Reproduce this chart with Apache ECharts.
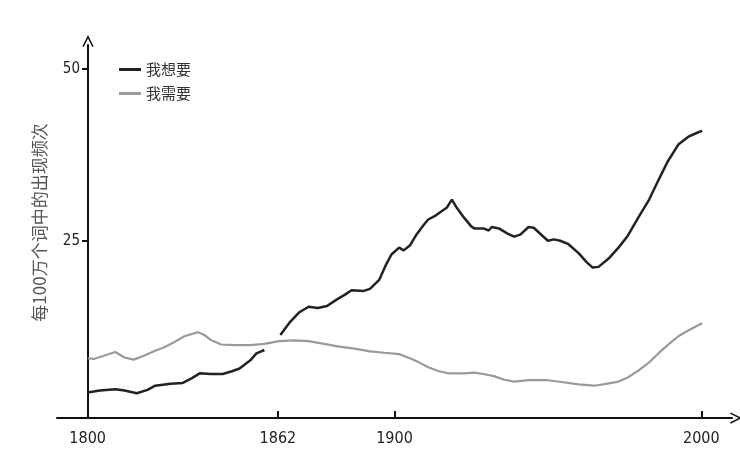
<!DOCTYPE html>
<html>
<head>
<meta charset="utf-8">
<script src="https://cdn.jsdelivr.net/npm/echarts@6/dist/echarts.min.js"></script>
<style>html,body{margin:0;padding:0;background:#fff}#c{width:740px;height:463px}</style>
</head>
<body>
<div id="c"></div>
<script>
var wantYears = [1800,1804,1809,1812,1816,1819.5,1822,1827,1831,1834,1836.5,1840,1844,1847,1849.5,1853,1855,1857.6,1860,1862.8,1866,1869,1872,1875,1878,1881,1884,1886,1890,1892,1895,1897,1899,1901.5,1903,1905,1907,1909.5,1911,1913.5,1915,1917,1918.7,1920.3,1922.6,1925,1926,1929,1930.7,1931.7,1934,1937,1939,1941,1943.7,1945.4,1948,1950,1952,1954,1956.7,1960,1962.6,1964.6,1966.5,1970,1973,1976,1979.5,1983,1986,1989,1992.5,1996,1999,2000.3];
var wantVals  = [2.9,3.2,3.4,3.2,2.8,3.3,3.9,4.2,4.3,5.0,5.7,5.6,5.6,6.0,6.4,7.6,8.6,9.1,null,11.3,13.2,14.6,15.4,15.2,15.5,16.4,17.2,17.8,17.7,18.0,19.3,21.3,23.0,24.0,23.6,24.3,25.8,27.3,28.1,28.7,29.2,29.8,31.0,29.8,28.4,27.1,26.8,26.8,26.5,27.0,26.8,26.0,25.6,25.9,27.0,26.9,25.8,25.0,25.2,25.0,24.5,23.2,21.9,21.1,21.2,22.5,24.0,25.7,28.4,31.0,33.8,36.5,39.0,40.2,40.8,41.0];
var needYears = [1800,1802,1805.5,1809,1812,1815,1818.5,1822,1825,1828,1831.5,1836,1838,1840,1843.5,1848,1853,1857.6,1862.4,1867,1872,1877,1882,1887,1892,1896.6,1901.5,1905,1908,1911,1914.5,1917.7,1922.6,1926,1929,1932.4,1935.6,1939,1943.7,1950,1955,1960,1965,1968,1973,1976,1979.5,1983,1986,1989,1992.5,1996,1999,2000.3];
var needVals  = [7.9,7.8,8.3,8.8,8.0,7.7,8.3,9.0,9.5,10.2,11.1,11.7,11.3,10.6,9.9,9.8,9.8,10.0,10.4,10.5,10.4,10.0,9.6,9.3,8.9,8.7,8.5,7.9,7.3,6.6,6.0,5.7,5.7,5.8,5.6,5.3,4.8,4.5,4.7,4.7,4.4,4.1,3.9,4.1,4.5,5.1,6.1,7.3,8.6,9.8,11.1,12.0,12.7,13.0];
var xTicks = [1800,1862,1900,2000];
var yTicks = [25,50];
var seriesNames = ['我想要','我需要'];

function pairs(xs, ys){ return xs.map(function(x,i){ return [x, ys[i]]; }); }
var arrowPath = 'path://M0,12 L6,0 L12,12 L10.6,12.8 L6,3.6 L1.4,12.8 Z';

var chart = echarts.init(document.getElementById('c'), null, {renderer:'canvas'});
chart.setOption({
  animation:false,
  backgroundColor:'#fff',
  grid:{left:57, right:8, top:45, bottom:45},
  legend:{
    orient:'vertical', left:114, top:57, itemWidth:22, itemHeight:3, itemGap:9,
    icon:'rect',
    textStyle:{fontFamily:'Noto Sans CJK SC', fontSize:15, color:'#333'},
    data:seriesNames
  },
  xAxis:{
    type:'value', min:1790, max:2010,
    axisLine:{onZero:false, lineStyle:{color:'#111', width:2}, symbol:['none', arrowPath], symbolSize:[12,12], symbolOffset:[0,4]},
    splitLine:{show:false},
    axisTick:{customValues:xTicks, inside:true, length:7, lineStyle:{color:'#111', width:2}},
    axisLabel:{customValues:xTicks, margin:13, formatter:function(v){return String(v);},
      fontFamily:'Liberation Sans Narrow, DejaVu Sans Condensed, sans-serif', fontSize:16, color:'#222'}
  },
  yAxis:{
    type:'value', min:-0.8, max:53.5, offset:-31,
    name:'每100万个词中的出现频次', nameLocation:'middle', nameGap:40, nameRotate:90,
    nameTextStyle:{fontFamily:'Noto Sans CJK SC', fontSize:17, color:'#555', padding:[0,0,0,18]},
    axisLine:{show:true, lineStyle:{color:'#111', width:2}, symbol:['none', arrowPath], symbolSize:[12,12], symbolOffset:[0,4]},
    splitLine:{show:false},
    axisTick:{show:true, customValues:yTicks, length:6, lineStyle:{color:'#111', width:2}},
    axisLabel:{customValues:yTicks, margin:8, formatter:function(v){return String(v);},
      fontFamily:'Liberation Sans Narrow, DejaVu Sans Condensed, sans-serif', fontSize:15, color:'#222'}
  },
  series:[
    {name:seriesNames[0], type:'line', data:pairs(wantYears, wantVals), symbol:'none', connectNulls:false,
     lineStyle:{color:'#222', width:2.5}, itemStyle:{color:'#222'}},
    {name:seriesNames[1], type:'line', data:pairs(needYears, needVals), symbol:'none',
     lineStyle:{color:'#9a9a9a', width:2.2}, itemStyle:{color:'#9a9a9a'}}
  ]
});
</script>
</body>
</html>
